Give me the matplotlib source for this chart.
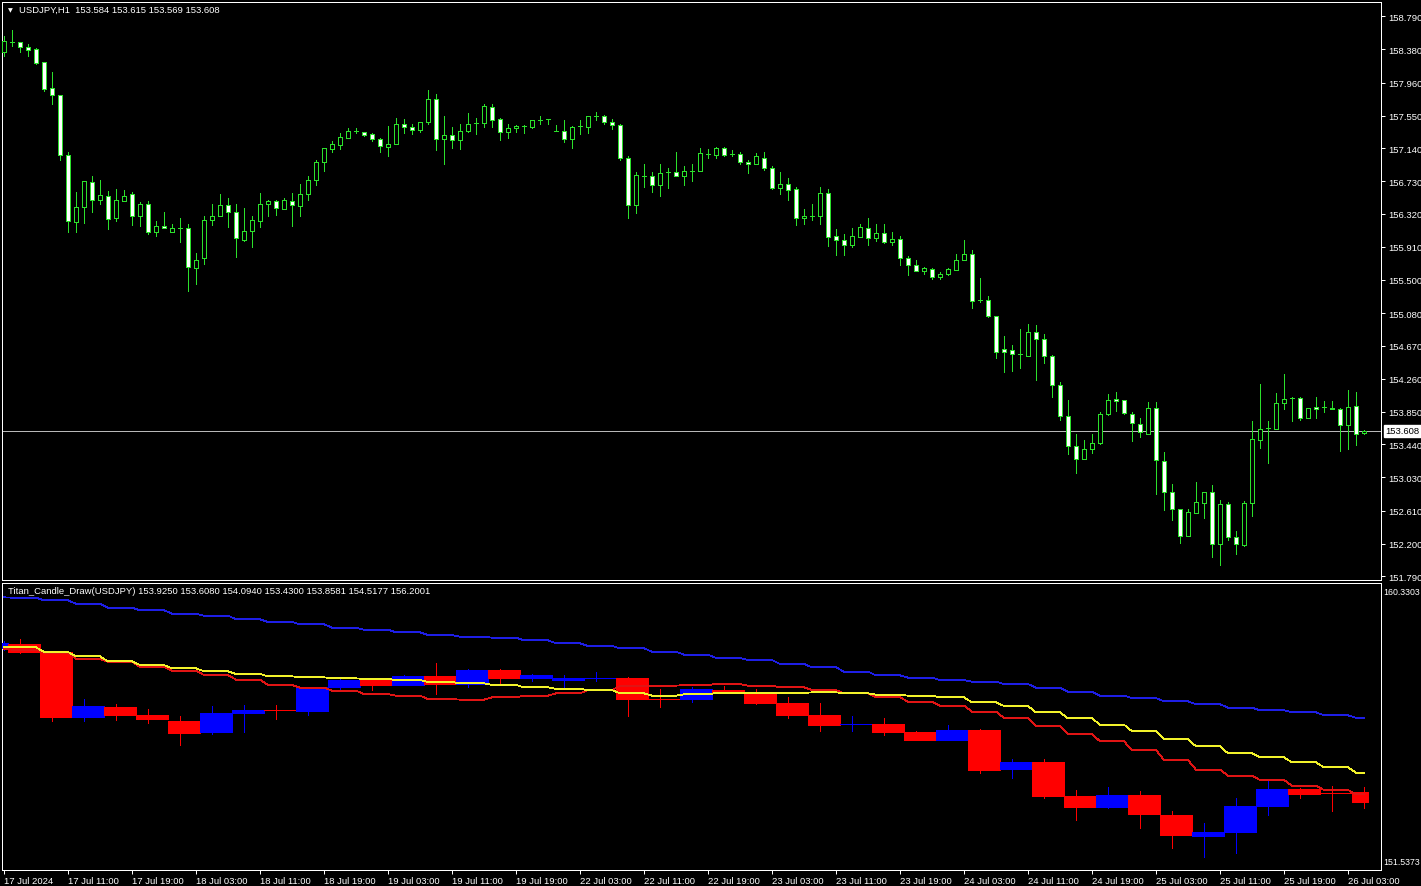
import matplotlib
matplotlib.use("Agg")
import matplotlib.pyplot as plt
import matplotlib.transforms as mtransforms
from matplotlib.patches import Rectangle
import numpy as np

# USDJPY H1 candles, 17 Jul 2024 03:00 .. 26 Jul 2024 05:00 (weekend skipped)
h1_open = [
    158.34, 158.47, 158.47, 158.41, 158.38, 158.22, 157.89, 157.81, 157.06, 156.22,
    156.41, 156.72, 156.49, 156.54, 156.27, 156.48, 156.57, 156.29, 156.45, 156.10,
    156.17, 156.10, 156.145, 156.15, 155.64, 155.77, 156.24, 156.29, 156.43, 156.34,
    156.00, 156.11, 156.23, 156.45, 156.48, 156.38, 156.48, 156.42, 156.57, 156.75,
    156.97, 157.13, 157.18, 157.27, 157.36, 157.35, 157.32, 157.26, 157.16, 157.19,
    157.45, 157.41, 157.37, 157.47, 157.76, 157.26, 157.31, 157.25, 157.36, 157.46,
    157.46, 157.66, 157.51, 157.34, 157.39, 157.42, 157.41, 157.49, 157.51, 157.36,
    157.36, 157.26, 157.42, 157.41, 157.54, 157.54, 157.47, 157.43, 157.02, 156.43,
    156.79, 156.79, 156.68, 156.84, 156.85, 156.79, 156.86, 156.86, 157.07, 157.06,
    157.14, 157.07, 157.07, 156.97, 156.95, 157.02, 156.90, 156.64, 156.70, 156.63,
    156.265, 156.30, 156.30, 156.58, 156.04, 156.00, 155.93, 156.03, 156.15, 156.02,
    156.08, 155.97, 156.01, 155.77, 155.68, 155.61, 155.63, 155.53, 155.565, 155.62,
    155.74, 155.815, 155.24, 155.25, 155.04, 154.63, 154.62, 154.57, 154.545, 154.85,
    154.76, 154.55, 154.18, 153.80, 153.42, 153.26, 153.38, 153.46, 153.815, 154.01,
    153.995, 153.82, 153.70, 153.575, 153.90, 153.23, 152.85, 152.63, 152.30, 152.58,
    152.71, 152.84, 152.19, 152.69, 152.285, 152.18, 152.71, 153.50, 153.645, 153.63,
    153.96, 154.02, 154.02, 153.765, 153.91, 153.91, 153.90, 153.885, 153.68, 153.925,
    153.584,
]
h1_high = [
    158.54, 158.615, 158.47, 158.45, 158.39, 158.22, 158.09, 157.81, 157.10, 156.59,
    156.73, 156.79, 156.74, 156.61, 156.63, 156.62, 156.59, 156.47, 156.48, 156.23,
    156.34, 156.20, 156.27, 156.20, 155.83, 156.29, 156.44, 156.57, 156.52, 156.45,
    156.40, 156.29, 156.58, 156.50, 156.50, 156.52, 156.58, 156.69, 156.80, 156.99,
    157.15, 157.23, 157.33, 157.40, 157.40, 157.35, 157.33, 157.27, 157.42, 157.52,
    157.51, 157.44, 157.47, 157.87, 157.82, 157.55, 157.41, 157.44, 157.58, 157.52,
    157.69, 157.70, 157.52, 157.44, 157.43, 157.43, 157.49, 157.54, 157.51, 157.43,
    157.50, 157.42, 157.49, 157.55, 157.60, 157.56, 157.51, 157.45, 157.05, 156.84,
    156.95, 156.84, 156.95, 156.90, 157.09, 156.92, 156.95, 157.14, 157.13, 157.16,
    157.16, 157.115, 157.09, 156.99, 157.08, 157.09, 156.92, 156.85, 156.77, 156.66,
    156.38, 156.44, 156.66, 156.63, 156.13, 156.07, 156.15, 156.19, 156.265, 156.20,
    156.20, 156.09, 156.05, 155.80, 155.74, 155.66, 155.64, 155.59, 155.65, 155.815,
    155.99, 155.865, 155.515, 155.29, 155.05, 154.795, 154.68, 154.88, 154.94, 154.93,
    154.82, 154.56, 154.22, 153.99, 153.57, 153.49, 153.57, 153.84, 154.065, 154.09,
    154.00, 153.85, 153.765, 153.97, 153.97, 153.34, 152.94, 152.63, 152.635, 152.97,
    152.845, 152.93, 152.74, 152.72, 152.36, 152.73, 153.73, 154.19, 153.73, 154.085,
    154.315, 154.03, 154.03, 153.90, 154.035, 153.98, 153.98, 153.89, 154.12, 154.094,
    153.615,
]
h1_low = [
    158.29, 158.42, 158.34, 158.30, 158.20, 157.86, 157.70, 156.99, 156.09, 156.09,
    156.21, 156.34, 156.45, 156.13, 156.23, 156.48, 156.18, 156.17, 156.07, 156.04,
    156.14, 156.09, 155.97, 155.36, 155.44, 155.70, 156.18, 156.29, 156.16, 155.78,
    155.98, 155.91, 156.16, 156.29, 156.31, 156.38, 156.17, 156.30, 156.49, 156.68,
    156.86, 157.09, 157.13, 157.27, 157.33, 157.29, 157.23, 157.09, 157.04, 157.19,
    157.33, 157.32, 157.34, 157.45, 157.12, 156.94, 157.14, 157.13, 157.35, 157.32,
    157.41, 157.41, 157.25, 157.27, 157.34, 157.33, 157.39, 157.45, 157.45, 157.36,
    157.22, 157.14, 157.32, 157.33, 157.50, 157.44, 157.38, 157.00, 156.265, 156.33,
    156.66, 156.59, 156.54, 156.64, 156.79, 156.68, 156.73, 156.86, 157.02, 157.02,
    157.04, 157.04, 156.95, 156.83, 156.95, 156.87, 156.63, 156.565, 156.50, 156.18,
    156.19, 156.24, 156.20, 155.92, 155.81, 155.81, 155.91, 156.03, 155.93, 155.98,
    155.96, 155.93, 155.68, 155.56, 155.61, 155.565, 155.51, 155.51, 155.56, 155.62,
    155.74, 155.15, 155.22, 155.03, 154.52, 154.345, 154.36, 154.39, 154.54, 154.25,
    154.46, 154.03, 153.74, 153.315, 153.08, 153.26, 153.33, 153.45, 153.81, 153.86,
    153.82, 153.48, 153.53, 153.57, 152.82, 152.62, 152.49, 152.21, 152.30, 152.58,
    152.52, 152.035, 151.93, 152.24, 152.07, 152.175, 152.545, 153.40, 153.21, 153.63,
    153.88, 153.73, 153.75, 153.765, 153.77, 153.84, 153.88, 153.36, 153.38, 153.43,
    153.569,
]
h1_close = [
    158.48, 158.47, 158.41, 158.37, 158.21, 157.88, 157.81, 157.06, 156.23, 156.41,
    156.73, 156.49, 156.56, 156.26, 156.49, 156.55, 156.29, 156.45, 156.09, 156.17,
    156.15, 156.15, 156.145, 155.66, 155.74, 156.25, 156.30, 156.43, 156.34, 156.02,
    156.11, 156.24, 156.45, 156.48, 156.39, 156.49, 156.43, 156.57, 156.75, 156.97,
    157.14, 157.19, 157.28, 157.36, 157.36, 157.31, 157.26, 157.17, 157.20, 157.45,
    157.41, 157.37, 157.47, 157.76, 157.26, 157.31, 157.25, 157.36, 157.45, 157.46,
    157.67, 157.49, 157.34, 157.39, 157.415, 157.42, 157.49, 157.49, 157.51, 157.36,
    157.26, 157.41, 157.42, 157.54, 157.54, 157.47, 157.43, 157.02, 156.43, 156.81,
    156.79, 156.68, 156.83, 156.84, 156.79, 156.86, 156.86, 157.08, 157.07, 157.14,
    157.06, 157.07, 156.97, 156.94, 157.04, 156.90, 156.64, 156.70, 156.62, 156.27,
    156.30, 156.30, 156.58, 156.03, 155.99, 155.93, 156.04, 156.16, 156.02, 156.08,
    155.97, 156.01, 155.77, 155.68, 155.61, 155.64, 155.53, 155.565, 155.63, 155.75,
    155.815, 155.23, 155.24, 155.04, 154.60, 154.60, 154.57, 154.57, 154.85, 154.76,
    154.55, 154.18, 153.79, 153.42, 153.26, 153.38, 153.46, 153.815, 154.00, 153.98,
    153.835, 153.71, 153.59, 153.90, 153.24, 152.85, 152.63, 152.30, 152.60, 152.72,
    152.845, 152.19, 152.69, 152.285, 152.19, 152.71, 153.51, 153.635, 153.645, 153.96,
    154.01, 154.02, 153.765, 153.90, 153.88, 153.91, 153.88, 153.68, 153.91, 153.575,
    153.608,
]

# Titan_Candle_Draw lines, one value per 4-hour block (block 0 = 17 Jul 00:00)
red_line = [
    158.308, 158.288, 158.186, 158.002, 157.920, 157.757, 157.644, 157.512, 157.369, 157.205,
    157.124, 157.032, 156.929, 156.878, 156.776, 156.756, 156.827, 156.878, 156.950, 157.052,
    157.175, 157.185, 157.205, 157.236, 157.185, 157.134, 157.052, 156.950, 156.827, 156.695,
    156.572, 156.388, 156.194, 155.959, 155.704, 155.479, 155.214, 154.907, 154.611, 154.427,
    154.295, 154.121, 153.988, 153.8581,
]
yellow_line = [
    158.359, 158.359, 158.216, 158.083, 157.930, 157.818, 157.716, 157.624, 157.542, 157.471,
    157.440, 157.409, 157.389, 157.358, 157.297, 157.256, 157.205, 157.134, 157.083, 157.052,
    156.950, 156.878, 156.919, 156.960, 156.960, 156.960, 156.981, 156.950, 156.909, 156.878,
    156.827, 156.674, 156.562, 156.368, 156.184, 155.990, 155.786, 155.541, 155.326, 155.112,
    154.989, 154.836, 154.683, 154.5177,
]
blue_line = [
    159.891, 159.881, 159.799, 159.697, 159.575, 159.493, 159.391, 159.330, 159.217, 159.135,
    159.064, 158.962, 158.900, 158.819, 158.737, 158.686, 158.655, 158.574, 158.482, 158.400,
    158.329, 158.226, 158.135, 158.033, 157.971, 157.849, 157.747, 157.614, 157.501, 157.430,
    157.358, 157.307, 157.236, 157.124, 157.001, 156.878, 156.807, 156.705, 156.613, 156.511,
    156.429, 156.368, 156.276, 156.2001,
]

price_ticks = [158.790, 158.380, 157.960, 157.550, 157.140, 156.730, 156.320, 155.910,
               155.500, 155.080, 154.670, 154.260, 153.850, 153.440, 153.030, 152.610,
               152.200, 151.790]
date_labels = ["17 Jul 2024", "17 Jul 11:00", "17 Jul 19:00", "18 Jul 03:00", "18 Jul 11:00",
               "18 Jul 19:00", "19 Jul 03:00", "19 Jul 11:00", "19 Jul 19:00", "22 Jul 03:00",
               "22 Jul 11:00", "22 Jul 19:00", "23 Jul 03:00", "23 Jul 11:00", "23 Jul 19:00",
               "24 Jul 03:00", "24 Jul 11:00", "24 Jul 19:00", "25 Jul 03:00", "25 Jul 11:00",
               "25 Jul 19:00", "26 Jul 03:00"]
sub_range = (151.5373, 160.3303)

GREEN = "#2BE02B"
FONT = "Liberation Sans"
FS = 6.8
PX = 0.72  # one pixel in points at dpi 100
THIN = 0.55
W, H = 1421, 887

plt.rcParams["font.family"] = [FONT, "DejaVu Sans"]

o = np.array(h1_open)
hi = np.array(h1_high)
lo = np.array(h1_low)
c = np.array(h1_close)
n = len(o)
x = np.arange(n)
block = np.where(x == 0, 0, (x + 3) // 4)

fig = plt.figure(figsize=(W / 100, H / 100), dpi=100, facecolor="black")


def px_axes(x0, y0, x1, y1):
    return fig.add_axes([x0 / W, 1 - y1 / H, (x1 - x0) / W, (y1 - y0) / H])


ax1 = px_axes(2, 3, 1381, 581)
ax2 = px_axes(2, 584, 1381, 871)
for ax in (ax1, ax2):
    ax.set_facecolor("black")
    for s in ax.spines.values():
        s.set_color("white")
        s.set_linewidth(PX)
    ax.set_xlim(-0.25, 172.125)

# ---- main chart
ax1.set_ylim(151.744, 158.969)
ax1.axhline(c[-1], color="#B8B8B8", lw=THIN, zorder=1, antialiased=False)
ax1.vlines(x, lo, hi, color=GREEN, lw=THIN, zorder=2, antialiased=False)
body = 0.5
for i in range(n):
    b0, b1 = min(o[i], c[i]), max(o[i], c[i])
    face = "white" if c[i] < o[i] else "black"
    ax1.add_patch(Rectangle((i - body / 2, b0), body, b1 - b0, facecolor=face,
                            edgecolor=GREEN, lw=PX, zorder=3, antialiased=False))
ax1.set_xticks([])
ax1.yaxis.tick_right()
ax1.set_yticks(price_ticks)
ax1.set_yticklabels([f"{p:.3f}" for p in price_ticks])
ax1.tick_params(axis="y", colors="white", length=3, width=PX, pad=2, labelsize=FS)

trans = mtransforms.blended_transform_factory(ax1.transAxes, ax1.transData)
ax1.text(1.0032, c[-1], f"{c[-1]:.3f}", transform=trans, ha="left", va="center",
         fontsize=FS, color="black", zorder=10, clip_on=False,
         bbox=dict(facecolor="white", edgecolor="white", pad=1.0))

fig.text(10.8 / W, 1 - 10.8 / H, "\u25bc", fontsize=4.5, color="white",
         ha="center", va="center", family="DejaVu Sans")
fig.text(19 / W, 1 - 10.8 / H,
         f"USDJPY,H1  {o[-1]:.3f} {hi[-1]:.3f} {lo[-1]:.3f} {c[-1]:.3f}",
         fontsize=FS, color="white", ha="left", va="center")

# ---- Titan_Candle_Draw subwindow: 4-hour candles built from the hourly bars
ax2.set_ylim(*sub_range)
last = None
for k in range(block.max() + 1):
    idx = np.flatnonzero(block == k)
    bo, bc = o[idx[0]], c[idx[-1]]
    bh, bl = hi[idx].max(), lo[idx].min()
    col = "#0000FF" if bc > bo else "#FF0000"
    wx = idx[min(1, len(idx) - 1)]
    ax2.vlines(wx, bl, bh, color=col, lw=THIN, zorder=2, antialiased=False)
    ax2.add_patch(Rectangle((idx[0] - 0.5, min(bo, bc)), len(idx), abs(bc - bo),
                            facecolor=col, edgecolor=col, lw=PX, zorder=3, antialiased=False))
    last = (bo, bc, bh, bl)

ax2.plot(x, np.array(blue_line)[block], color="#1E1EE6", lw=THIN, zorder=4, antialiased=False)
ax2.plot(x, np.array(red_line)[block], color="#E01414", lw=THIN, zorder=4, antialiased=False)
ax2.plot(x, np.array(yellow_line)[block], color="#F2F22A", lw=THIN, zorder=5, antialiased=False)

ax2.set_yticks([])
ax2.text(1.0015, 0.985, f"{sub_range[1]:.4f}", transform=ax2.transAxes, ha="left", va="top",
         fontsize=6.3, color="white")
ax2.text(1.0015, 0.015, f"{sub_range[0]:.4f}", transform=ax2.transAxes, ha="left", va="bottom",
         fontsize=6.3, color="white")
bo, bc, bh, bl = last
ax2.text(6 / 1379, 0.975,
         f"Titan_Candle_Draw(USDJPY) {bo:.4f} {bc:.4f} {bh:.4f} {bl:.4f} "
         f"{red_line[-1]:.4f} {yellow_line[-1]:.4f} {blue_line[-1]:.4f}",
         transform=ax2.transAxes, ha="left", va="center", fontsize=FS, color="white")

ax2.set_xticks(np.arange(0, n, 8)[:len(date_labels)])
ax2.set_xticklabels(date_labels)
for lbl in ax2.get_xticklabels():
    lbl.set_ha("left")
ax2.tick_params(axis="x", colors="white", length=3, width=PX, pad=1.5, labelsize=FS)

fig.savefig("out.png", dpi=100, facecolor="black")
